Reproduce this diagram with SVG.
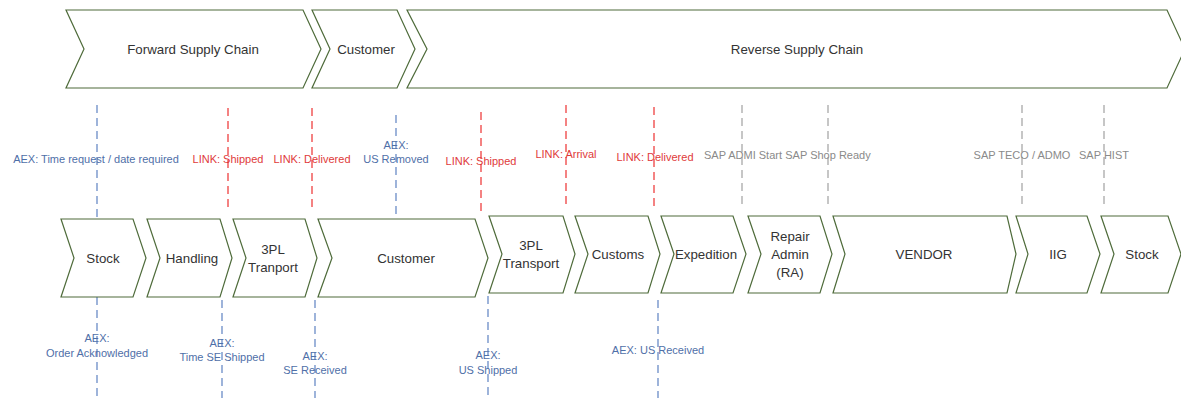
<svg xmlns="http://www.w3.org/2000/svg" width="1181" height="398" viewBox="0 0 1181 398">
<style>
.chev{fill:#ffffff;stroke:#4e6b3a;stroke-width:1.2}
.nt{font-family:"Liberation Sans",Arial,sans-serif;font-size:13.3px;fill:#333333;text-anchor:middle}
.lb{font-family:"Liberation Sans",Arial,sans-serif;font-size:11px;text-anchor:middle}
.blue{fill:#4f6fa8}
.red{fill:#e03a3a}
.gray{fill:#8a8a8a}
.dl{stroke-width:1.3;stroke-dasharray:8 5;fill:none}
.lblue{stroke:#6a8cc7}
.lred{stroke:#ee4040}
.lgray{stroke:#a8a8a8}
</style>
<rect width="1181" height="398" fill="#ffffff"/>
<g id="connectors">
<line class="dl lblue" x1="97" y1="105" x2="97" y2="219"/>
<line class="dl lred" x1="228" y1="108" x2="228" y2="208"/>
<line class="dl lred" x1="312" y1="108" x2="312" y2="208"/>
<line class="dl lblue" x1="396" y1="115" x2="396" y2="219"/>
<line class="dl lred" x1="481" y1="112" x2="481" y2="212"/>
<line class="dl lred" x1="566" y1="105" x2="566" y2="205"/>
<line class="dl lred" x1="654" y1="107" x2="654" y2="207"/>
<line class="dl lgray" x1="742" y1="105" x2="742" y2="205"/>
<line class="dl lgray" x1="828" y1="105" x2="828" y2="205"/>
<line class="dl lgray" x1="1022" y1="105" x2="1022" y2="205"/>
<line class="dl lgray" x1="1104" y1="105" x2="1104" y2="205"/>
<line class="dl lblue" x1="97" y1="297" x2="97" y2="398"/>
<line class="dl lblue" x1="222" y1="300" x2="222" y2="398"/>
<line class="dl lblue" x1="315" y1="300" x2="315" y2="398"/>
<line class="dl lblue" x1="488" y1="296" x2="488" y2="398"/>
<line class="dl lblue" x1="658" y1="300" x2="658" y2="398"/>
</g>
<g id="labels">
<text class="lb blue" x="96" y="163">AEX: Time request / date required</text>
<text class="lb red" x="228" y="163">LINK: Shipped</text>
<text class="lb red" x="312" y="163">LINK: Delivered</text>
<text class="lb blue" x="396" y="149">AEX:</text>
<text class="lb blue" x="396" y="163">US Removed</text>
<text class="lb red" x="481" y="165">LINK: Shipped</text>
<text class="lb red" x="566" y="158">LINK: Arrival</text>
<text class="lb red" x="655" y="161">LINK: Delivered</text>
<text class="lb gray" x="743" y="159">SAP ADMI Start</text>
<text class="lb gray" x="828" y="159">SAP Shop Ready</text>
<text class="lb gray" x="1022" y="159">SAP TECO / ADMO</text>
<text class="lb gray" x="1104" y="159">SAP HIST</text>
<text class="lb blue" x="97" y="342">AEX:</text>
<text class="lb blue" x="97" y="357">Order Acknowledged</text>
<text class="lb blue" x="222" y="347">AEX:</text>
<text class="lb blue" x="222" y="361">Time SE Shipped</text>
<text class="lb blue" x="315" y="360">AEX:</text>
<text class="lb blue" x="315" y="374">SE Received</text>
<text class="lb blue" x="488" y="359">AEX:</text>
<text class="lb blue" x="488" y="374">US Shipped</text>
<text class="lb blue" x="658" y="354">AEX: US Received</text>
</g>
<g id="forward-supply-chain">
<path class="chev" d="M66 10 L303 10 L321 49 L303 88 L66 88 L84 49 Z"/>
<text class="nt" x="193" y="54">Forward Supply Chain</text>
</g>
<g id="customer-phase">
<path class="chev" d="M312 10 L397 10 L415 49 L397 88 L312 88 L330 49 Z"/>
<text class="nt" x="366" y="54">Customer</text>
</g>
<g id="reverse-supply-chain">
<path class="chev" d="M407 10 L1167 10 L1185 49 L1167 88 L407 88 L427 49 Z"/>
<text class="nt" x="797" y="54">Reverse Supply Chain</text>
</g>
<g id="stock-1">
<path class="chev" d="M61 219 L133 219 L146 258 L133 297 L61 297 L74 258 Z"/>
<text class="nt" x="103" y="263">Stock</text>
</g>
<g id="handling">
<path class="chev" d="M147 219 L220 219 L232 258 L220 297 L147 297 L160 258 Z"/>
<text class="nt" x="192" y="263">Handling</text>
</g>
<g id="tpl-tranport">
<path class="chev" d="M233 219 L305 219 L317 258 L305 297 L233 297 L246 258 Z"/>
<text class="nt" x="273" y="254">3PL</text>
<text class="nt" x="273" y="272">Tranport</text>
</g>
<g id="customer">
<path class="chev" d="M318 219 L475 219 L488 258 L475 297 L318 297 L332 258 Z"/>
<text class="nt" x="406" y="263">Customer</text>
</g>
<g id="tpl-transport">
<path class="chev" d="M489 216 L563 216 L575 254 L563 293 L489 293 L502 254 Z"/>
<text class="nt" x="531" y="250">3PL</text>
<text class="nt" x="531" y="268">Transport</text>
</g>
<g id="customs">
<path class="chev" d="M575 216 L648 216 L660 254 L648 293 L575 293 L588 254 Z"/>
<text class="nt" x="618" y="259">Customs</text>
</g>
<g id="expedition">
<path class="chev" d="M661 216 L733 216 L746 254 L733 293 L661 293 L674 254 Z"/>
<text class="nt" x="706" y="259">Expedition</text>
</g>
<g id="repair-admin">
<path class="chev" d="M748 216 L820 216 L832 254 L820 293 L748 293 L761 254 Z"/>
<text class="nt" x="790" y="241">Repair</text>
<text class="nt" x="790" y="259">Admin</text>
<text class="nt" x="790" y="277">(RA)</text>
</g>
<g id="vendor">
<path class="chev" d="M833 216 L1007 216 L1016 254 L1007 293 L833 293 L845 254 Z"/>
<text class="nt" x="924" y="259">VENDOR</text>
</g>
<g id="iig">
<path class="chev" d="M1016 216 L1087 216 L1100 254 L1087 293 L1016 293 L1028 254 Z"/>
<text class="nt" x="1058" y="259">IIG</text>
</g>
<g id="stock-2">
<path class="chev" d="M1101 216 L1168 216 L1181 254 L1168 293 L1101 293 L1114 254 Z"/>
<text class="nt" x="1142" y="259">Stock</text>
</g>
</svg>
